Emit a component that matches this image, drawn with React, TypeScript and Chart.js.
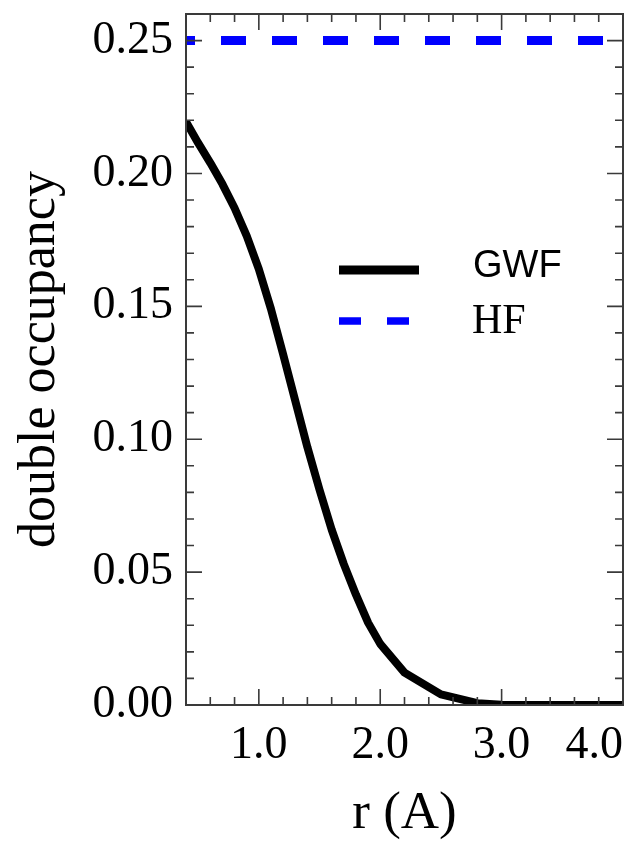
import React, { useEffect, useRef } from 'react';
import { Chart, registerables } from 'chart.js';

Chart.register(...registerables);

// r (Angstrom) sample points and GWF double occupancy
const R_VALUES = [0.4, 0.5, 0.6, 0.7, 0.8, 0.9, 1.0, 1.1, 1.2, 1.3, 1.4, 1.5, 1.6, 1.7, 1.8, 1.9, 2.0, 2.2, 2.5, 2.8, 3.0, 3.5, 4.0];
const GWF_VALUES = [0.2195, 0.2115, 0.204, 0.196, 0.187, 0.1765, 0.164, 0.149, 0.132, 0.1145, 0.097, 0.081, 0.066, 0.053, 0.0415, 0.031, 0.023, 0.0122, 0.004, 0.0007, 0.0001, 0.0, 0.0];

// HF double occupancy (constant)
const HF_R = [0.4, 4.0];
const HF_VALUES = [0.25, 0.25];

// Axis ticks
const X_MIN = 0.4;
const X_MAX = 4.0;
const X_MAJOR = [1.0, 2.0, 3.0, 4.0];
const X_MINOR = [0.4, 0.6, 0.8, 1.0, 1.2, 1.4, 1.6, 1.8, 2.0, 2.2, 2.4, 2.6, 2.8, 3.0, 3.2, 3.4, 3.6, 3.8, 4.0];
const Y_MIN = 0;
const Y_MAX = 0.26;
const Y_MAJOR = [0.0, 0.05, 0.1, 0.15, 0.2, 0.25];
const Y_MINOR = [0.0, 0.01, 0.02, 0.03, 0.04, 0.05, 0.06, 0.07, 0.08, 0.09, 0.1, 0.11, 0.12, 0.13, 0.14, 0.15, 0.16, 0.17, 0.18, 0.19, 0.2, 0.21, 0.22, 0.23, 0.24, 0.25, 0.26];

const SERIF = '"Liberation Serif", "Times New Roman", serif';
const SANS = '"Liberation Sans", Arial, sans-serif';

const isIn = (arr: number[], v: number) => arr.some((m) => Math.abs(m - v) < 1e-9);

const framePlugin = {
  id: 'frameTicksLegend',
  afterDatasetsDraw(chart: any) {
    const { ctx, chartArea, scales } = chart;
    const { left, right, top, bottom } = chartArea;
    const xs = scales.x;
    const ys = scales.y;
    ctx.save();
    ctx.strokeStyle = '#3a3a3a';
    ctx.lineWidth = 1.6;
    ctx.beginPath();
    for (const v of X_MINOR) {
      const px = xs.getPixelForValue(v);
      if (px <= left + 1 || px >= right - 1) continue;
      const len = isIn(X_MAJOR, v) ? 16 : 8;
      ctx.moveTo(px, bottom);
      ctx.lineTo(px, bottom - len);
      ctx.moveTo(px, top);
      ctx.lineTo(px, top + len);
    }
    for (const v of Y_MINOR) {
      const py = ys.getPixelForValue(v);
      if (py <= top + 1 || py >= bottom - 1) continue;
      const len = isIn(Y_MAJOR, v) ? 16 : 8;
      ctx.moveTo(left, py);
      ctx.lineTo(left + len, py);
      ctx.moveTo(right, py);
      ctx.lineTo(right - len, py);
    }
    ctx.stroke();
    ctx.lineWidth = 2;
    ctx.strokeRect(left, top, right - left, bottom - top);

    // legend
    const ds = chart.data.datasets;
    const lx0 = left + 153;
    const lx1 = left + 233;
    // GWF
    ctx.beginPath();
    ctx.setLineDash([]);
    ctx.strokeStyle = ds[0].borderColor;
    ctx.lineWidth = 9;
    ctx.lineCap = 'butt';
    ctx.moveTo(lx0, top + 256);
    ctx.lineTo(lx1, top + 256);
    ctx.stroke();
    // HF
    ctx.beginPath();
    ctx.setLineDash([22, 26]);
    ctx.strokeStyle = ds[1].borderColor;
    ctx.lineWidth = 7.5;
    ctx.moveTo(lx0, top + 307);
    ctx.lineTo(lx0 + 73, top + 307);
    ctx.stroke();
    ctx.setLineDash([]);
    ctx.fillStyle = '#000';
    ctx.textBaseline = 'alphabetic';
    ctx.textAlign = 'left';
    ctx.font = '38px ' + SANS;
    ctx.fillText(ds[0].label, left + 287, top + 263);
    ctx.font = '42px ' + SERIF;
    ctx.fillText(ds[1].label, left + 286, top + 319);
    ctx.restore();
  },
};

export default function App() {
  const ref = useRef<HTMLCanvasElement | null>(null);

  useEffect(() => {
    if (!ref.current) return;
    const chart = new Chart(ref.current, {
      type: 'line',
      data: {
        datasets: [
          {
            label: 'GWF',
            data: R_VALUES.map((r, i) => ({ x: r, y: GWF_VALUES[i] })),
            borderColor: '#000000',
            backgroundColor: '#000000',
            borderWidth: 8,
            pointRadius: 0,
            tension: 0,
            borderJoinStyle: 'round',
            fill: false,
          },
          {
            label: 'HF',
            data: HF_R.map((r, i) => ({ x: r, y: HF_VALUES[i] })),
            borderColor: '#0000ff',
            backgroundColor: '#0000ff',
            borderWidth: 9,
            borderDash: [25, 26],
            borderDashOffset: 16,
            pointRadius: 0,
            tension: 0,
            fill: false,
          },
        ],
      },
      options: {
        responsive: false,
        animation: false,
        devicePixelRatio: 1,
        layout: { padding: { left: 0, right: 6, top: 14, bottom: 0 } },
        plugins: {
          legend: { display: false },
          tooltip: { enabled: false },
        },
        scales: {
          x: {
            type: 'linear',
            min: X_MIN,
            max: X_MAX,
            grid: { display: false, drawTicks: false },
            border: { display: false },
            afterBuildTicks: (scale: any) => {
              scale.ticks = X_MINOR.map((v) => ({ value: v }));
            },
            afterFit: (scale: any) => {
              scale.height = 136;
              scale.paddingLeft = 0;
              scale.paddingRight = 0;
            },
            ticks: {
              autoSkip: false,
              maxRotation: 0,
              minRotation: 0,
              align: 'inner',
              padding: 13,
              color: '#000',
              font: { family: SERIF, size: 46 },
              callback: (v: any) => (isIn(X_MAJOR, Number(v)) ? Number(v).toFixed(1) : ''),
            },
            title: {
              display: true,
              text: 'r (A)',
              color: '#000',
              font: { family: SERIF, size: 53, lineHeight: 1 },
              padding: { top: 0, bottom: 0 },
            },
          },
          y: {
            type: 'linear',
            min: Y_MIN,
            max: Y_MAX,
            grid: { display: false, drawTicks: false },
            border: { display: false },
            afterBuildTicks: (scale: any) => {
              scale.ticks = Y_MINOR.map((v) => ({ value: v }));
            },
            afterFit: (scale: any) => {
              scale.width = 186;
              scale.paddingTop = 0;
              scale.paddingBottom = 0;
            },
            ticks: {
              autoSkip: false,
              padding: 13,
              color: '#000',
              font: { family: SERIF, size: 46 },
              callback: (v: any) => (isIn(Y_MAJOR, Number(v)) ? Number(v).toFixed(2) : ''),
            },
            title: {
              display: true,
              text: 'double occupancy',
              color: '#000',
              font: { family: SERIF, size: 52, lineHeight: 1 },
              padding: { top: 14, bottom: 0 },
            },
          },
        },
      },
      plugins: [framePlugin],
    } as any);
    return () => chart.destroy();
  }, []);

  return (
    <div style={{ position: 'absolute', left: 0, top: 0, width: 629, height: 841, background: '#fff' }}>
      <canvas ref={ref} width={629} height={841} style={{ display: 'block' }} />
    </div>
  );
}
